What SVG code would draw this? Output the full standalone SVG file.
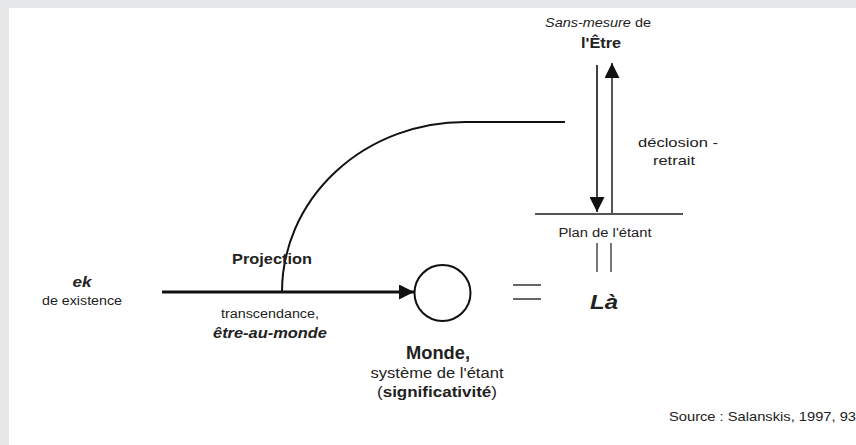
<svg xmlns="http://www.w3.org/2000/svg" width="856" height="445" viewBox="0 0 856 445">
<style>
text{font-family:"Liberation Sans",Arial,sans-serif;fill:#222;text-anchor:middle}
.b{font-weight:bold}
.i{font-style:italic}
.ln{stroke:#111;fill:none}
.gr{stroke:#555;fill:none}
</style>
<defs>
<marker id="ah2" viewBox="0 0 10 10" refX="10" refY="5" markerWidth="15" markerHeight="15" markerUnits="userSpaceOnUse" orient="auto">
<path d="M0,0 L10,5 L0,10 Z" fill="#111"/>
</marker>
</defs>
<rect x="0" y="0" width="856" height="445" fill="#e6e7e9"/>
<rect x="9" y="8" width="847" height="437" fill="#fff"/>

<g id="connectors">
<line class="ln" x1="162" y1="292" x2="414" y2="292" stroke-width="3" marker-end="url(#ah2)"/>
<path class="ln" d="M282,292 A183,170 0 0 1 465,122 L565,122" stroke-width="2"/>
<line class="ln" x1="597" y1="65" x2="597" y2="212" stroke-width="1.6" marker-end="url(#ah2)"/>
<line class="gr" x1="612" y1="214" x2="612" y2="63" stroke-width="2" marker-end="url(#ah2)"/>
</g>

<g id="plan">
<line class="gr" x1="535" y1="214" x2="683" y2="214" stroke-width="2.2"/>
<text x="605" y="237" font-size="12" textLength="93" lengthAdjust="spacingAndGlyphs">Plan de l'étant</text>
<line class="gr" x1="597" y1="243" x2="597" y2="272" stroke-width="1.6"/>
<line class="gr" x1="611" y1="243" x2="611" y2="272" stroke-width="1.6"/>
</g>

<g id="etre">
<text x="598" y="27" font-size="12" textLength="106" lengthAdjust="spacingAndGlyphs"><tspan class="i">Sans-mesure</tspan> de</text>
<text class="b" x="601" y="48" font-size="15" textLength="40" lengthAdjust="spacingAndGlyphs">l'Être</text>
</g>

<g id="declosion">
<text x="678" y="147" font-size="13" textLength="80" lengthAdjust="spacingAndGlyphs">déclosion -</text>
<text x="674" y="165" font-size="13" textLength="42" lengthAdjust="spacingAndGlyphs">retrait</text>
</g>

<g id="ek">
<text class="b i" x="82" y="287" font-size="14" textLength="19" lengthAdjust="spacingAndGlyphs">ek</text>
<text x="82" y="305" font-size="12" textLength="80" lengthAdjust="spacingAndGlyphs">de existence</text>
</g>

<g id="projection">
<text class="b" x="272" y="264" font-size="15" textLength="80" lengthAdjust="spacingAndGlyphs">Projection</text>
<text x="270" y="318" font-size="12" textLength="98" lengthAdjust="spacingAndGlyphs">transcendance,</text>
<text class="b i" x="270" y="338" font-size="15" textLength="114" lengthAdjust="spacingAndGlyphs">être-au-monde</text>
</g>

<g id="monde">
<circle cx="442.5" cy="293" r="28" fill="none" stroke="#111" stroke-width="2"/>
<text class="b" x="438" y="359" font-size="18" textLength="64" lengthAdjust="spacingAndGlyphs">Monde,</text>
<text x="437" y="378" font-size="14" textLength="133" lengthAdjust="spacingAndGlyphs">système de l'étant</text>
<text x="437" y="397" font-size="14" textLength="120" lengthAdjust="spacingAndGlyphs">(<tspan class="b">significativité</tspan>)</text>
</g>

<g id="egal">
<line class="gr" x1="513" y1="285" x2="541" y2="285" stroke-width="1.8"/>
<line class="gr" x1="513" y1="299" x2="541" y2="299" stroke-width="1.8"/>
</g>

<g id="la">
<text class="b i" x="604" y="309" font-size="20" textLength="28" lengthAdjust="spacingAndGlyphs">Là</text>
</g>

<g id="source">
<text x="669" y="421" font-size="13" textLength="187" lengthAdjust="spacingAndGlyphs" style="text-anchor:start">Source : Salanskis, 1997, 93</text>
</g>
</svg>
